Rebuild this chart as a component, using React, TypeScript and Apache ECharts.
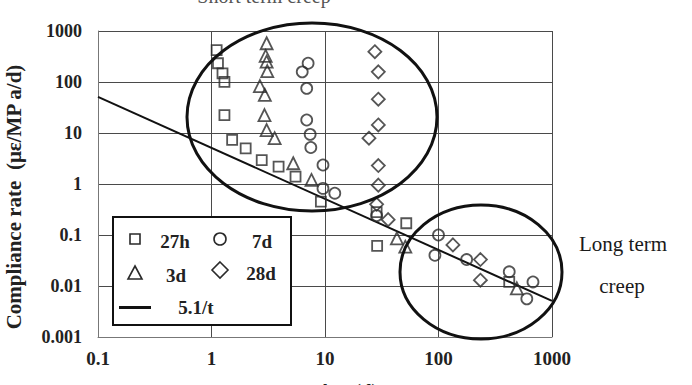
import React, { useEffect, useRef } from "react";
import * as echarts from "echarts";

const xTickLabels = ["0.1", "1", "10", "100", "1000"];
const yTickLabels = ["0.001", "0.01", "0.1", "1", "10", "100", "1000"];

const h27X = [1.11, 1.14, 1.25, 1.3, 1.3, 1.52, 2.0, 2.77, 3.9, 5.5, 9.2, 28.5, 28.8, 52, 420];
const h27Y = [423, 233, 148, 101, 22.5, 7.3, 5.0, 2.95, 2.2, 1.39, 0.45, 0.28, 0.061, 0.17, 0.012];

const d3X = [3.06, 3.0, 3.06, 3.1, 2.67, 2.95, 2.93, 3.06, 3.6, 5.25, 7.6, 43, 51, 490];
const d3Y = [575, 324, 250, 164, 83, 56, 22.5, 11.4, 7.9, 2.55, 1.2, 0.086, 0.059, 0.009];

const d7X = [7.1, 6.3, 6.9, 6.9, 7.4, 7.5, 9.6, 9.6, 12.2, 28.5, 100, 93, 177, 420, 680, 600];
const d7Y = [233, 158, 75, 18, 9.4, 5.2, 2.36, 0.82, 0.66, 0.24, 0.1, 0.04, 0.033, 0.019, 0.012, 0.0056];

const d28X = [27.5, 29.5, 29.5, 29.5, 24.4, 29.5, 29.5, 28.5, 36, 134, 234, 234];
const d28Y = [393, 158, 46, 14.4, 7.9, 2.3, 0.95, 0.4, 0.2, 0.064, 0.033, 0.013];

const fitX = [0.1, 1000];
const fitY = fitX.map((t) => 5.1 / t);

const zip = (xs: number[], ys: number[]) => xs.map((x, i) => [x, ys[i]]);

const SERIF = "'Liberation Serif', 'DejaVu Serif', serif";
const MK = "#2a2a2a";

export default function App() {
  const ref = useRef<HTMLDivElement>(null);
  useEffect(() => {
    if (!ref.current) return;
    const chart = echarts.init(ref.current, undefined, { renderer: "svg" });
    const fmt = (labels: string[], minExp: number) => (v: number) => {
      const i = Math.round(Math.log10(v)) - minExp;
      return labels[i] ?? String(v);
    };
    const hollow = (symbol: string, size: number, data: number[][], name: string) => ({
      type: "scatter",
      name,
      symbol,
      symbolSize: size,
      data,
      z: 5,
      itemStyle: { color: "rgba(0,0,0,0)", borderColor: MK, borderWidth: 1.8 },
    });
    chart.setOption({
      animation: false,
      backgroundColor: "#fff",
      grid: { left: 98, top: 31, width: 454, height: 306, containLabel: false },
      xAxis: {
        type: "log",
        logBase: 10,
        min: 0.1,
        max: 1000,
        axisLine: { show: true, lineStyle: { color: "#777", width: 1 } },
        axisTick: { show: false },
        splitLine: { show: true, lineStyle: { color: "#4a4a4a", width: 1 } },
        minorSplitLine: { show: false },
        axisLabel: {
          formatter: fmt(xTickLabels, -1),
          fontFamily: SERIF,
          fontWeight: "bold",
          fontSize: 19,
          color: "#222",
          margin: 12,
        },
      },
      yAxis: {
        type: "log",
        logBase: 10,
        min: 0.001,
        max: 1000,
        axisLine: { show: true, lineStyle: { color: "#777", width: 1 } },
        axisTick: { show: false },
        splitLine: { show: true, lineStyle: { color: "#4a4a4a", width: 1 } },
        axisLabel: {
          formatter: fmt(yTickLabels, -3),
          fontFamily: SERIF,
          fontWeight: "bold",
          fontSize: 18,
          color: "#222",
          margin: 16,
        },
      },
      series: [
        {
          type: "line",
          name: "5.1/t",
          data: zip(fitX, fitY),
          showSymbol: false,
          z: 4,
          lineStyle: { color: "#111", width: 2 },
        },
        hollow("rect", 10, zip(h27X, h27Y), "27h"),
        hollow("triangle", 12, zip(d3X, d3Y), "3d"),
        hollow("circle", 11, zip(d7X, d7Y), "7d"),
        hollow("diamond", 13, zip(d28X, d28Y), "28d"),
      ],
      graphic: [
        {
          type: "ellipse",
          z: 10,
          shape: { cx: 312, cy: 117, rx: 125, ry: 94 },
          style: { fill: "none", stroke: "#111", lineWidth: 3 },
        },
        {
          type: "ellipse",
          z: 10,
          shape: { cx: 481, cy: 272, rx: 81, ry: 67 },
          style: { fill: "none", stroke: "#111", lineWidth: 3 },
        },
        {
          type: "rect",
          z: 20,
          shape: { x: 113, y: 217, width: 178, height: 108 },
          style: { fill: "#fff", stroke: "#111", lineWidth: 2 },
        },
        {
          type: "rect",
          z: 21,
          shape: { x: 130, y: 234, width: 10, height: 10 },
          style: { fill: "none", stroke: MK, lineWidth: 1.6 },
        },
        {
          type: "circle",
          z: 21,
          shape: { cx: 220, cy: 239, r: 6 },
          style: { fill: "none", stroke: MK, lineWidth: 1.6 },
        },
        {
          type: "polygon",
          z: 21,
          shape: { points: [[135, 266], [142, 279], [128, 279]] },
          style: { fill: "none", stroke: MK, lineWidth: 1.6 },
        },
        {
          type: "polygon",
          z: 21,
          shape: { points: [[220, 262], [228, 270], [220, 278], [212, 270]] },
          style: { fill: "none", stroke: MK, lineWidth: 1.6 },
        },
        {
          type: "line",
          z: 21,
          shape: { x1: 119, y1: 307.5, x2: 151, y2: 307.5 },
          style: { stroke: "#111", lineWidth: 3 },
        },
        ...[
          ["27h", 175, 241],
          ["7d", 262, 241],
          ["3d", 176, 275],
          ["28d", 261, 273],
          ["5.1/t", 196, 307],
        ].map(([t, x, y]) => ({
          type: "text",
          z: 22,
          x,
          y,
          style: {
            text: t,
            fontFamily: SERIF,
            fontWeight: "bold",
            fontSize: 19,
            fill: "#222",
            align: "center",
            verticalAlign: "middle",
          },
        })),
        {
          type: "text",
          x: 623,
          y: 244,
          style: {
            text: "Long term",
            fontFamily: SERIF,
            fontSize: 21,
            fill: "#1a1a1a",
            align: "center",
            verticalAlign: "middle",
          },
        },
        {
          type: "text",
          x: 622,
          y: 286,
          style: {
            text: "creep",
            fontFamily: SERIF,
            fontSize: 21,
            fill: "#1a1a1a",
            align: "center",
            verticalAlign: "middle",
          },
        },
        {
          type: "text",
          x: 264,
          y: 6,
          style: {
            text: "Short term creep",
            fontFamily: SERIF,
            fontSize: 20,
            fill: "#555",
            align: "center",
            verticalAlign: "bottom",
          },
        },
        {
          type: "text",
          x: 348,
          y: 381,
          style: {
            text: "Age (d)",
            fontFamily: SERIF,
            fontWeight: "bold",
            fontSize: 19,
            fill: "#222",
            align: "center",
            verticalAlign: "top",
          },
        },
        {
          type: "text",
          x: 14,
          y: 197,
          rotation: Math.PI / 2,
          style: {
            text: "Compliance rate  (με/MP a/d)",
            fontFamily: SERIF,
            fontWeight: "bold",
            fontSize: 21,
            fill: "#222",
            align: "center",
            verticalAlign: "middle",
          },
        },
      ],
    });
    return () => chart.dispose();
  }, []);
  return (
    <div
      ref={ref}
      style={{ position: "absolute", left: 0, top: 0, width: 692, height: 385 }}
    />
  );
}
